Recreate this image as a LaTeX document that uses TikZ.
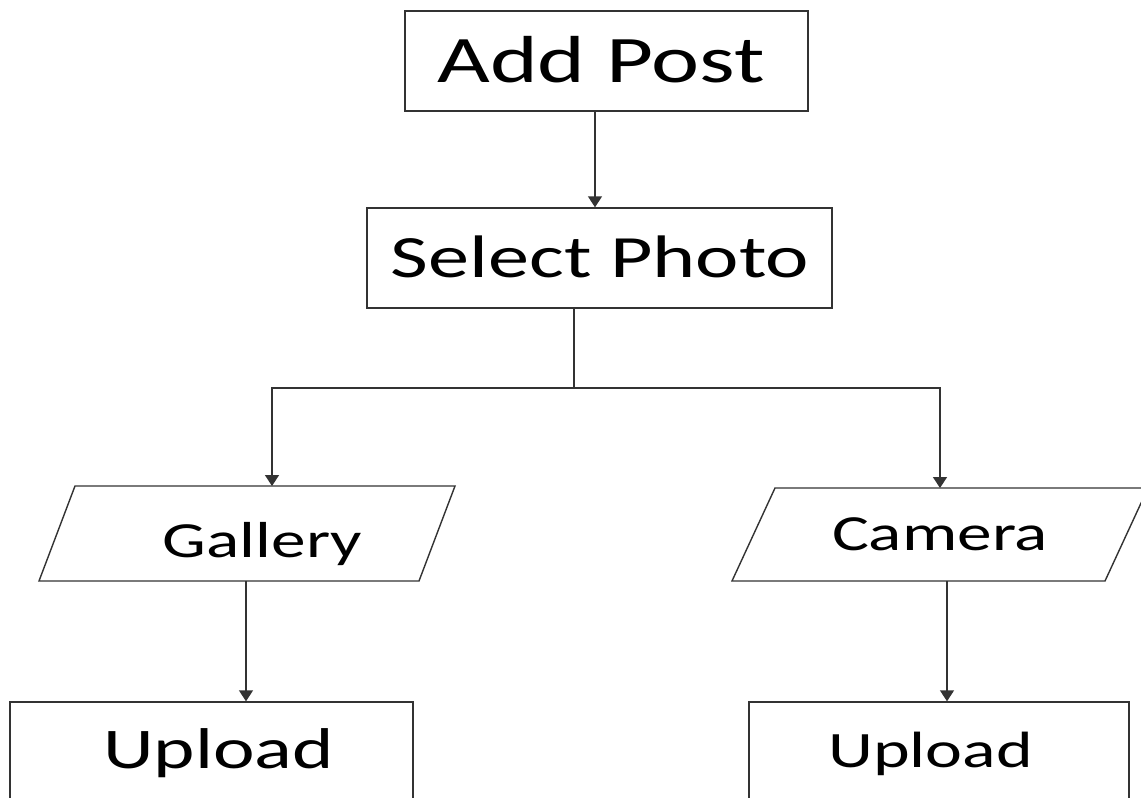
\documentclass[tikz,border=0pt]{standalone}
\usepackage{fontspec}
\newfontfamily\cf[FakeStretch=1.37]{Carlito}
\usetikzlibrary{arrows.meta}
\begin{document}
\begin{tikzpicture}[x=1pt,y=-1pt,
  ln/.style={line width=1.4pt, draw=black!80},
  box/.style={ln, rectangle, inner sep=0pt, fill=none},
  arr/.style={ln, -{Triangle[width=14pt,length=11pt]}},
  lbl/.style={anchor=base, inner sep=0pt, text=black}]
\useasboundingbox (0,0) rectangle (1141,798);
\clip (0,0) rectangle (1141,798);
\fill[white] (0,0) rectangle (1141,798);

% boxes
\node[box, minimum width=403pt, minimum height=100pt] (add) at (606.5,61) {};
\node[box, minimum width=465pt, minimum height=100pt] (sel) at (599.5,258) {};
\node[box, minimum width=403pt, minimum height=200pt] (upl) at (211.5,802) {};
\node[box, minimum width=380pt, minimum height=200pt] (upr) at (939,802) {};

% parallelograms
\draw[ln] (39,581) -- (75,486) -- (455,486) -- (419,581) -- cycle;
\draw[ln] (732,581) -- (775,488) -- (1148,488) -- (1105,581) -- cycle;
\coordinate (galtop) at (272,486);
\coordinate (galbot) at (246,581);
\coordinate (camtop) at (940,488);
\coordinate (cambot) at (947,581);
\coordinate (j) at (574,388);

% labels
\node[lbl, font=\cf\fontsize{66.5}{70}\selectfont] (addt) at (601,82) {Add Post};
\node[lbl, font=\cf\fontsize{60}{64}\selectfont] (selt) at (600,277) {Select Photo};
\node[lbl, font=\cf\fontsize{50.6}{54}\selectfont] (galt) at (262.5,557) {Gallery};
\node[lbl, font=\cf\fontsize{50.6}{54}\selectfont] (camt) at (940,550) {Camera};
\node[lbl, font=\cf\fontsize{57.5}{60}\selectfont] (uplt) at (218.5,768) {Upload};
\node[lbl, font=\cf\fontsize{51}{54}\selectfont] (uprt) at (930.5,767) {Upload};

% connectors
\draw[arr] ([xshift=-11.5pt]add.south) -- ([xshift=-11.5pt]add.south |- sel.north);
\draw[ln] (sel.south -| j) -- (j);
\draw[arr] (j) -| (galtop);
\draw[arr] (j) -| (camtop);
\draw[arr] (galbot) -- (galbot |- upl.north);
\draw[arr] (cambot) -- (cambot |- upr.north);
\end{tikzpicture}
\end{document}
